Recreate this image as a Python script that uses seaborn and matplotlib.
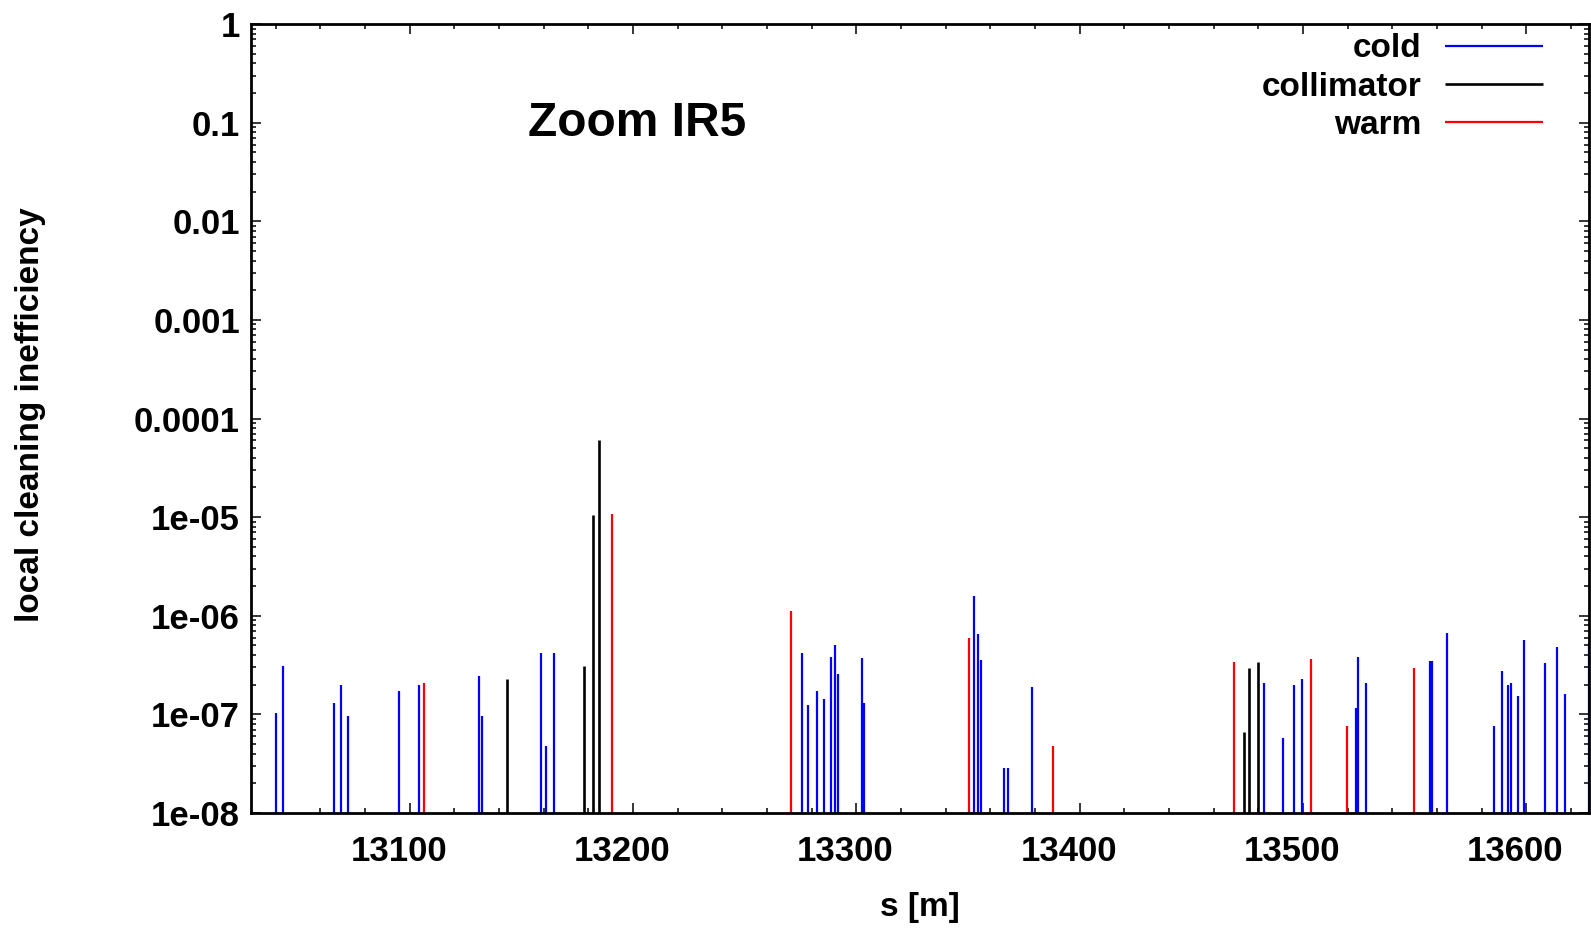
import matplotlib
matplotlib.use("Agg")
import matplotlib.pyplot as plt
import matplotlib.ticker as mticker
from matplotlib.transforms import ScaledTranslation
import seaborn as sns
import numpy as np

# ====================================================
# DATA
# ====================================================

cold_s = [13040.0, 13043.4, 13066.0, 13069.1, 13072.3, 13095.4, 13104.2,
          13130.9, 13132.2, 13158.8, 13161.0, 13164.7,
          13275.7, 13278.5, 13282.4, 13285.5, 13288.7, 13290.6, 13291.9,
          13302.6, 13303.6,
          13352.5, 13354.6, 13355.9, 13366.2, 13367.9, 13378.6,
          13482.4, 13491.2, 13496.0, 13499.4, 13523.6, 13524.8, 13528.4,
          13556.7, 13557.9, 13564.4, 13585.4, 13589.3, 13591.8, 13593.3,
          13596.3, 13598.9, 13608.4, 13613.8, 13617.4, 13628.0]
cold_v = [1.04e-7, 3.09e-7, 1.32e-7, 1.98e-7, 9.6e-8, 1.72e-7, 1.98e-7,
          2.46e-7, 9.6e-8, 4.15e-7, 4.76e-8, 4.17e-7,
          4.15e-7, 1.24e-7, 1.72e-7, 1.43e-7, 3.81e-7, 5.04e-7, 2.56e-7,
          3.70e-7, 1.32e-7,
          1.57e-6, 6.52e-7, 3.53e-7, 2.83e-8, 2.83e-8, 1.90e-7,
          2.09e-7, 5.70e-8, 1.97e-7, 2.28e-7, 1.15e-7, 3.81e-7, 2.09e-7,
          3.45e-7, 3.45e-7, 6.63e-7, 7.6e-8, 2.75e-7, 1.98e-7, 2.09e-7,
          1.53e-7, 5.63e-7, 3.34e-7, 4.78e-7, 1.62e-7, 5.3e-7]

coll_s = [13143.6, 13178.2, 13182.2, 13184.6, 13473.6, 13475.7, 13480.0]
coll_v = [2.29e-7, 3.07e-7, 1.05e-5, 6.1e-5, 6.56e-8, 2.93e-7, 3.41e-7]

warm_s = [13106.3, 13190.6, 13270.8, 13350.4, 13388.1, 13469.0, 13503.6,
          13519.9, 13549.7]
warm_v = [2.09e-7, 1.08e-5, 1.11e-6, 5.94e-7, 4.76e-8, 3.41e-7, 3.61e-7,
          7.55e-8, 2.95e-7]

y_ticks = [1e-8, 1e-7, 1e-6, 1e-5, 1e-4, 1e-3, 1e-2, 1e-1, 1]
y_ticklabels = ["1e-08", "1e-07", "1e-06", "1e-05", "0.0001", "0.001",
                "0.01", "0.1", "1"]
x_ticks = [13100, 13200, 13300, 13400, 13500, 13600]

# ====================================================
# PLOT
# ====================================================

sns.set_style("ticks")
plt.rcParams['font.family'] = ['Liberation Sans', 'DejaVu Sans']
plt.rcParams.update({"text.color": "black", "axes.labelcolor": "black",
                     "xtick.color": "black", "ytick.color": "black",
                     "axes.edgecolor": "black"})

fig = plt.figure(figsize=(15.91, 9.31), dpi=100)
ax = fig.add_axes([0.1578, 0.1267, 0.8409, 0.8475])

base = 1e-8
ax.vlines(cold_s, base, cold_v, colors="#0000ff", linewidth=1.6, label="cold")
ax.vlines(coll_s, base, coll_v, colors="black", linewidth=1.9, label="collimator")
ax.vlines(warm_s, base, warm_v, colors="#ff0000", linewidth=1.6, label="warm")

ax.set_yscale("log")
ax.set_ylim(1e-8, 1)
ax.set_xlim(13029, 13628)

ax.set_yticks(y_ticks)
ax.set_yticklabels(y_ticklabels)
ax.yaxis.set_minor_locator(mticker.LogLocator(base=10, subs=np.arange(2, 10)))
ax.yaxis.set_minor_formatter(mticker.NullFormatter())
ax.set_xticks(x_ticks)
ax.xaxis.set_minor_locator(mticker.MultipleLocator(20))

ax.tick_params(which="both", direction="in", top=True, right=True)
ax.tick_params(which="major", length=7, width=1.1, labelsize=25)
ax.tick_params(which="minor", length=3.5, width=1.1)
ax.tick_params(axis="y", which="major", pad=8)
ax.tick_params(axis="x", which="major", pad=16)
for lab in ax.get_xticklabels() + ax.get_yticklabels():
    lab.set_fontweight("bold")
# gnuplot puts the x labels a little left of their ticks
shift = ScaledTranslation(-0.11, 0, fig.dpi_scale_trans)
for lab in ax.get_xticklabels():
    lab.set_transform(lab.get_transform() + shift)

for sp in ax.spines.values():
    sp.set_linewidth(2.0)

ax.set_xlabel("s [m]", fontsize=24, fontweight="bold")
ax.set_ylabel("local cleaning inefficiency", fontsize=24, fontweight="bold")
ax.xaxis.set_label_coords(0.5, -0.100)
ax.yaxis.set_label_coords(-0.153, 0.505)

ax.text(0.207, 0.874, "Zoom IR5", transform=ax.transAxes, fontsize=34.5,
        fontweight="bold", ha="left", va="center")

leg = ax.legend(loc="upper right", bbox_to_anchor=(0.966, 0.988),
                frameon=False, markerfirst=False, fontsize=24,
                handlelength=2.95, handletextpad=0.7, labelspacing=0.22,
                borderpad=0, borderaxespad=0)
for t in leg.get_texts():
    t.set_fontweight("bold")
for col in leg._legend_handle_box.get_children():
    col.align = "right"

fig.savefig("out.png", dpi=100)
plt.close(fig)
